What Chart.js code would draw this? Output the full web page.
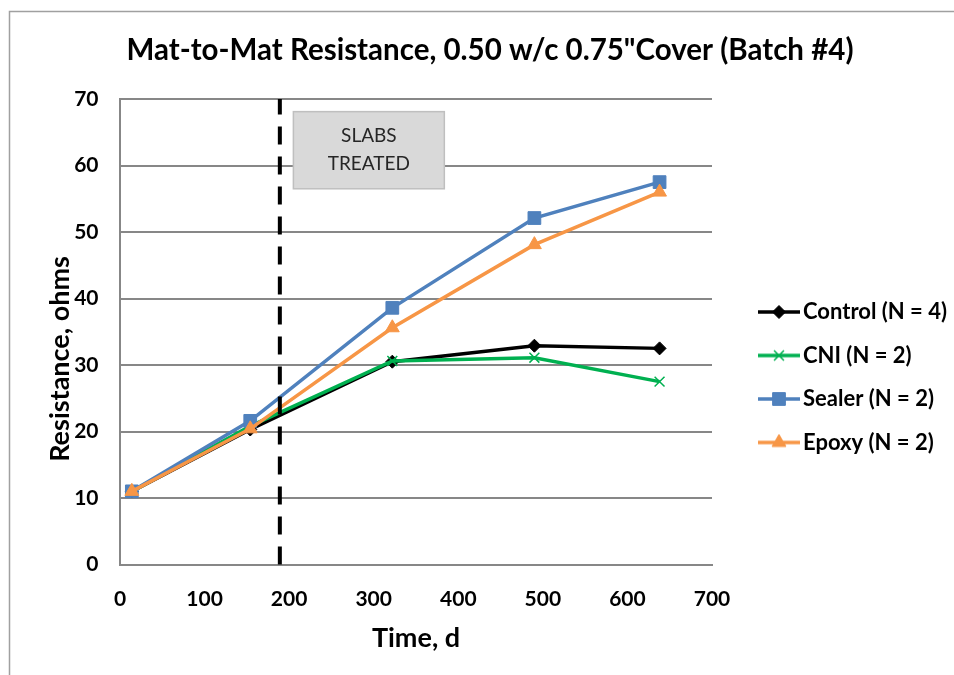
<!DOCTYPE html>
<html><head><meta charset="utf-8">
<script src="https://cdn.jsdelivr.net/npm/chart.js@4.4.1/dist/chart.umd.min.js"></script>
<style>html,body{margin:0;padding:0;background:#fff;}canvas{display:block;}</style>
</head><body>
<canvas id="c" width="954" height="675"></canvas>
<script>
// ---------- data ----------
const TIME_DAYS = [14, 154, 322, 490, 638];
const CONTROL   = [11.0, 20.3, 30.5, 32.9, 32.5];
const CNI       = [11.0, 20.8, 30.6, 31.1, 27.5];
const SEALER    = [11.0, 21.6, 38.6, 52.1, 57.5];
const EPOXY     = [11.0, 20.4, 35.6, 48.1, 56.0];
const SERIES_LABELS = ['Control (N = 4)', 'CNI (N = 2)', 'Sealer (N = 2)', 'Epoxy (N = 2)'];
const X_TICKS = [0, 100, 200, 300, 400, 500, 600, 700];
const Y_TICKS = [0, 10, 20, 30, 40, 50, 60, 70];
const TREATED_DAY = 189;
const NOTE_LINES = ['SLABS', 'TREATED'];
const CHART_TITLE = 'Mat-to-Mat Resistance, 0.50 w/c 0.75"Cover (Batch #4)';
const X_TITLE = 'Time, d';
const Y_TITLE = 'Resistance, ohms';

// ---------- layout / style ----------
const W = 954, H = 675;
const PLOT = { left: 120, right: 712, top: 99, bottom: 564.5 };
const PAD = { left: 10, top: 12, right: 0, bottom: 0 };
const NOTE_BOX = { x0: 205, x1: 383.5, y0: 56.5, y1: 68.1 };
const TITLE_SHIFT = 16;
const FONT = 'Lato';
const GRID = '#878787';
const COLORS = { control: '#000000', cni: '#00b050', sealer: '#4f81bd', epoxy: '#f79646' };
const LEG = { pad: 21.5, box: 42, lineLen: 42, gap: 3, lineX: 758, firstY: 312, font: 22 };

const pts = (ys) => ys.map((y, i) => ({ x: TIME_DAYS[i], y }));

// geometry of legend icon relative to legend cursor x
const LG_lineEnd = LEG.box + LEG.font / 2 - LEG.gap;
const LG_lineStart = LG_lineEnd - LEG.lineLen;
const LG_half = Math.max(LEG.box / 2 - LG_lineStart, LG_lineEnd - LEG.box / 2);

function legendIcon(color, style, radius, bw, fill) {
  const c = document.createElement('canvas');
  c.width = Math.ceil(2 * LG_half); c.height = 22;
  const g = c.getContext('2d');
  const x0 = LG_half - (LEG.box / 2 - LG_lineStart);
  g.strokeStyle = color; g.lineWidth = 3.5;
  g.beginPath(); g.moveTo(x0, 11); g.lineTo(x0 + LEG.lineLen, 11); g.stroke();
  g.fillStyle = fill; g.strokeStyle = color; g.lineWidth = bw;
  Chart.helpers.drawPoint(g, { pointStyle: style, radius: radius, borderWidth: bw, rotation: 0 }, x0 + LEG.lineLen / 2, 11);
  return c;
}

const ICONS = [
  legendIcon(COLORS.control, 'rectRot', 6.5, 1, COLORS.control),
  legendIcon(COLORS.cni, 'crossRot', 7, 1.5, COLORS.cni),
  legendIcon(COLORS.sealer, 'rect', 9, 1, COLORS.sealer),
  legendIcon(COLORS.epoxy, 'triangle', 8, 1, COLORS.epoxy)
];

const frame = {
  id: 'frame',
  beforeDraw(chart) {
    const ctx = chart.ctx;
    ctx.save();
    ctx.fillStyle = '#fff'; ctx.fillRect(0, 0, W, H);
    ctx.strokeStyle = '#a0a0a0'; ctx.lineWidth = 1.5;
    ctx.beginPath(); ctx.moveTo(9.5, H + 5); ctx.lineTo(9.5, 11.5); ctx.lineTo(W + 5, 11.5); ctx.stroke();
    ctx.restore();
  },
  afterDraw(chart) {
    const ctx = chart.ctx;
    ctx.save();
    ctx.translate(60, 359);
    ctx.rotate(-Math.PI / 2);
    ctx.font = 'bold 27px ' + FONT;
    ctx.fillStyle = '#000';
    ctx.textAlign = 'center'; ctx.textBaseline = 'middle';
    ctx.fillText(Y_TITLE, 0, 0);
    ctx.restore();
  }
};

const note = {
  id: 'note',
  afterDatasetsDraw(chart) {
    const { ctx, scales: { x, y } } = chart;
    const x0 = x.getPixelForValue(NOTE_BOX.x0), x1 = x.getPixelForValue(NOTE_BOX.x1);
    const y0 = y.getPixelForValue(NOTE_BOX.y1), y1 = y.getPixelForValue(NOTE_BOX.y0);
    ctx.save();
    ctx.fillStyle = '#d9d9d9'; ctx.strokeStyle = '#bfbfbf'; ctx.lineWidth = 1.5;
    ctx.fillRect(x0, y0, x1 - x0, y1 - y0);
    ctx.strokeRect(x0, y0, x1 - x0, y1 - y0);
    ctx.fillStyle = '#262626';
    ctx.font = '19px ' + FONT;
    ctx.textAlign = 'center'; ctx.textBaseline = 'middle';
    const cx = (x0 + x1) / 2, cy = (y0 + y1) / 2;
    ctx.fillText(NOTE_LINES[0], cx, cy - 14);
    ctx.fillText(NOTE_LINES[1], cx, cy + 14);
    ctx.restore();
  }
};

const legendFix = {
  id: 'legendFix',
  beforeLayout(chart) {
    const lg = chart.legend;
    if (lg && !lg._patched) {
      const orig = lg.fit;
      lg.fit = function () { orig.call(this); this.width = W - PAD.right - PLOT.right; };
      lg._patched = true;
    }
  },
  afterLayout(chart) {
    const lg = chart.legend;
    lg.left = LEG.lineX - LG_lineStart - LEG.pad;
    lg.right = W;
    lg.top = LEG.firstY - LEG.font / 2 - LEG.pad;
    lg.bottom = H;
    lg.width = lg.right - lg.left;
    lg.height = lg.bottom - lg.top;
    const t = chart.titleBlock;
    if (t) { t.left += TITLE_SHIFT; t.width = t.right - t.left; }
  }
};

const lineDs = (label, data, color, style, radius, bw, order) => ({
  label, data: pts(data), borderColor: color, backgroundColor: color,
  borderWidth: 3.5, pointStyle: style, pointRadius: radius, pointHoverRadius: radius,
  pointBorderWidth: bw, pointBackgroundColor: color, pointBorderColor: color,
  tension: 0, order
});

new Chart(document.getElementById('c'), {
  type: 'line',
  data: {
    datasets: [
      lineDs(SERIES_LABELS[0], CONTROL, COLORS.control, 'rectRot', 6.5, 1, 3),
      lineDs(SERIES_LABELS[1], CNI, COLORS.cni, 'crossRot', 7, 1.5, 2),
      lineDs(SERIES_LABELS[2], SEALER, COLORS.sealer, 'rect', 9, 1, 1),
      lineDs(SERIES_LABELS[3], EPOXY, COLORS.epoxy, 'triangle', 8, 1, 0),
      {
        label: 'Slabs treated', data: [{ x: TREATED_DAY, y: Y_TICKS[0] }, { x: TREATED_DAY, y: Y_TICKS[Y_TICKS.length - 1] }],
        borderColor: '#000', borderWidth: 4, borderDash: [18, 12], pointRadius: 0, order: -1, clip: false
      }
    ]
  },
  options: {
    responsive: false, animation: false, devicePixelRatio: 1,
    layout: { padding: PAD },
    plugins: {
      title: {
        display: true, text: CHART_TITLE, color: '#000',
        font: { family: FONT, size: 29.5, weight: 'bold', lineHeight: 1.2 },
        padding: { top: 20.3, bottom: 31.3 }
      },
      legend: {
        display: true, position: 'right', align: 'start',
        labels: {
          usePointStyle: true, pointStyleWidth: LEG.box, padding: LEG.pad, color: '#000',
          font: { family: FONT, size: LEG.font, weight: 'bold' },
          filter: (item) => item.datasetIndex < 4,
          sort: (a, b) => a.datasetIndex - b.datasetIndex,
          generateLabels(chart) {
            const items = Chart.defaults.plugins.legend.labels.generateLabels(chart);
            items.forEach(it => { it.pointStyle = ICONS[it.datasetIndex] || it.pointStyle; });
            return items;
          }
        }
      },
      tooltip: { enabled: false }
    },
    scales: {
      x: {
        type: 'linear', min: X_TICKS[0], max: X_TICKS[X_TICKS.length - 1],
        afterBuildTicks: (s) => { s.ticks = X_TICKS.map(v => ({ value: v })); },
        afterFit: (s) => { s.height = H - PAD.bottom - PLOT.bottom; },
        grid: { display: false, drawTicks: false },
        border: { display: true, color: GRID, width: 2 },
        ticks: { color: '#000', padding: 22, font: { family: FONT, size: 21, weight: 'bold' } },
        title: { display: true, text: X_TITLE, color: '#000', font: { family: FONT, size: 27, weight: 'bold', lineHeight: 1.2 }, padding: { top: 0, bottom: 21 } }
      },
      y: {
        type: 'linear', min: Y_TICKS[0], max: Y_TICKS[Y_TICKS.length - 1],
        afterBuildTicks: (s) => { s.ticks = Y_TICKS.map(v => ({ value: v })); },
        afterFit: (s) => { s.width = PLOT.left - PAD.left; },
        grid: { color: GRID, lineWidth: 2, drawTicks: false },
        border: { display: true, color: GRID, width: 2 },
        ticks: { color: '#000', padding: 21.5, font: { family: FONT, size: 21, weight: 'bold' } },
        title: { display: false }
      }
    }
  },
  plugins: [frame, note, legendFix]
});
</script>
</body></html>
